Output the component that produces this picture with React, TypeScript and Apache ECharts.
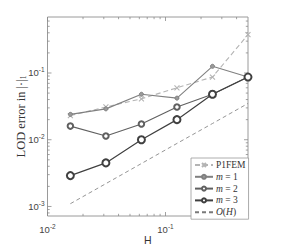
import React, { useEffect, useRef } from "react";
import * as echarts from "echarts";

const H = [0.015625, 0.03125, 0.0625, 0.125, 0.25, 0.5];
const p1fem = [0.023, 0.031, 0.041, 0.06, 0.087, 0.375];
const m1 = [0.024, 0.029, 0.048, 0.042, 0.126, 0.087];
const m2 = [0.016, 0.0114, 0.0172, 0.031, 0.048, 0.087];
const m3 = [0.0029, 0.0045, 0.01, 0.02, 0.048, 0.087];
const orderH = [0.0011, 0.0022, 0.0044, 0.0088, 0.0175, 0.035];

const xMajor = [0.01, 0.1];
const yMajor = [0.001, 0.01, 0.1];
const xMinor = [0.02, 0.03, 0.04, 0.05, 0.06, 0.07, 0.08, 0.09, 0.2, 0.3, 0.4];
const yMinor = [
  0.0008, 0.0009,
  0.002, 0.003, 0.004, 0.005, 0.006, 0.007, 0.008, 0.009,
  0.02, 0.03, 0.04, 0.05, 0.06, 0.07, 0.08, 0.09,
  0.2, 0.3, 0.4, 0.5, 0.6,
];

const X_MIN = 0.01, X_MAX = 0.5, Y_MIN = 0.00072, Y_MAX = 0.69;

const pair = (ys: number[]) => H.map((h, i) => [h, ys[i]]);

const powLabel = (v: number) => {
  const e = Math.round(Math.log10(v));
  if (Math.abs(v - Math.pow(10, e)) / v > 1e-6) return "";
  return `{b|10}{s|${e}}`;
};

const labelRich = {
  b: { fontSize: 9.5, color: "#444", fontFamily: "Liberation Sans, Arial, sans-serif" },
  s: { fontSize: 6.5, color: "#444", fontFamily: "Liberation Sans, Arial, sans-serif", padding: [0, 0, 6, 0] },
};

export default function App() {
  const ref = useRef<HTMLDivElement>(null);
  useEffect(() => {
    if (!ref.current) return;
    const chart = echarts.init(ref.current, undefined, { renderer: "svg" });
    const tickColor = "#8a8a8a";
    const option: any = {
      animation: false,
      backgroundColor: "#fff",
      grid: {
        left: 47.5, top: 17, width: 200.5, height: 199,
        outerBoundsMode: "none", containLabel: false,
        show: true, borderColor: "#9a9a9a", borderWidth: 1, backgroundColor: "transparent",
      },
      xAxis: {
        type: "log", logBase: 10, min: X_MIN, max: X_MAX,
        axisLine: { show: false }, axisTick: { show: false }, splitLine: { show: false },
        axisLabel: { formatter: powLabel, rich: labelRich, margin: 7, showMaxLabel: false },
        name: "H", nameLocation: "middle", nameGap: 18, nameMoveOverlap: false,
        nameTextStyle: { fontSize: 10.5, color: "#333", fontFamily: "Liberation Sans, Arial, sans-serif" },
      },
      yAxis: {
        type: "log", logBase: 10, min: Y_MIN, max: Y_MAX,
        axisLine: { show: false }, axisTick: { show: false }, splitLine: { show: false },
        axisLabel: { formatter: powLabel, rich: labelRich, margin: 3, showMinLabel: false, showMaxLabel: false },
        name: "LOD error in |·|{sub|1}", nameLocation: "middle", nameGap: 20, nameMoveOverlap: false,
        nameTextStyle: {
          fontSize: 12.5, color: "#333", fontFamily: "Liberation Serif, Times New Roman, serif",
          rich: { sub: { fontSize: 7.5, color: "#333", fontFamily: "Liberation Serif, serif", padding: [0, 0, -5, 0] } },
        },
      },
      legend: {
        orient: "vertical", left: 191, top: 158,
        data: [
          { name: "P1FEM" }, { name: "m1" }, { name: "m2" }, { name: "m3" },
          { name: "OH", itemStyle: { opacity: 0 } },
        ],
        itemWidth: 18, itemHeight: 5, itemGap: 1.8,
        padding: [2, 3, 2, 3],
        backgroundColor: "#fff", borderColor: "#9a9a9a", borderWidth: 0.8, borderRadius: 0,
        formatter: (name: string) => {
          if (name === "P1FEM") return "P1FEM";
          if (name === "m1") return "{i|m} = 1";
          if (name === "m2") return "{i|m} = 2";
          if (name === "m3") return "{i|m} = 3";
          return "{i|O}({i|H})";
        },
        textStyle: {
          fontSize: 9.5, lineHeight: 9, color: "#333", fontFamily: "Liberation Serif, Times New Roman, serif", padding: [0, 0, 0, -2],
          rich: { i: { fontStyle: "italic", fontSize: 9.5, lineHeight: 9, color: "#333", fontFamily: "Liberation Serif, serif" } },
        },
      },
      series: [
        {
          type: "custom", silent: true, clip: false, data: [[0.1, 0.01]],
          renderItem: (_p: any, api: any) => {
            const children: any[] = [];
            const x0 = api.coord([X_MIN, Y_MIN]);
            const x1 = api.coord([X_MAX, Y_MAX]);
            const left = x0[0], bottom = x0[1], right = x1[0], top = x1[1];
            const ln = (a: number, b: number, c: number, d: number) =>
              children.push({ type: "line", shape: { x1: a, y1: b, x2: c, y2: d }, style: { stroke: tickColor, lineWidth: 0.8 } });
            const addX = (vals: number[], len: number) => vals.forEach((v) => {
              const x = api.coord([v, Y_MIN])[0];
              ln(x, bottom, x, bottom - len);
              ln(x, top, x, top + len);
            });
            const addY = (vals: number[], len: number) => vals.forEach((v) => {
              const y = api.coord([X_MIN, v])[1];
              ln(left, y, left + len, y);
              ln(right, y, right - len, y);
            });
            addX(xMajor, 4); addX(xMinor, 2.2);
            addY(yMajor, 4); addY(yMinor, 2.2);
            return { type: "group", children };
          },
          z: 1,
        },
        {
          name: "OH", type: "line", data: pair(orderH), symbol: "none",
          lineStyle: { color: "#7a7a7a", width: 0.8, type: [4, 3] }, itemStyle: { color: "#7a7a7a" }, z: 2,
        },
        {
          name: "P1FEM", type: "line", data: pair(p1fem),
          symbol: "path://M0,0L10,10M10,0L0,10", symbolSize: 5,
          lineStyle: { color: "#b4b4b4", width: 1.1, type: [5, 3] },
          itemStyle: { color: "#b4b4b4", borderColor: "#b4b4b4", borderWidth: 1.1 }, z: 3,
        },
        {
          name: "m1", type: "line", data: pair(m1), symbol: "circle", symbolSize: 4,
          lineStyle: { color: "#808080", width: 1.1 },
          itemStyle: { color: "#9a9a9a", borderColor: "#808080", borderWidth: 1 }, z: 4,
        },
        {
          name: "m2", type: "line", data: pair(m2), symbol: "emptyCircle", symbolSize: 5.5,
          lineStyle: { color: "#606060", width: 1.1 },
          itemStyle: { color: "#606060", borderColor: "#606060", borderWidth: 1.1 }, z: 5,
        },
        {
          name: "m3", type: "line", data: pair(m3), symbol: "emptyCircle", symbolSize: 7,
          lineStyle: { color: "#404040", width: 1.2 },
          itemStyle: { color: "#404040", borderColor: "#404040", borderWidth: 1.2 }, z: 6,
        },
      ],
    };
    chart.setOption(option);
    return () => chart.dispose();
  }, []);
  return <div ref={ref} style={{ position: "fixed", left: 0, top: 0, width: 281, height: 247 }} />;
}
